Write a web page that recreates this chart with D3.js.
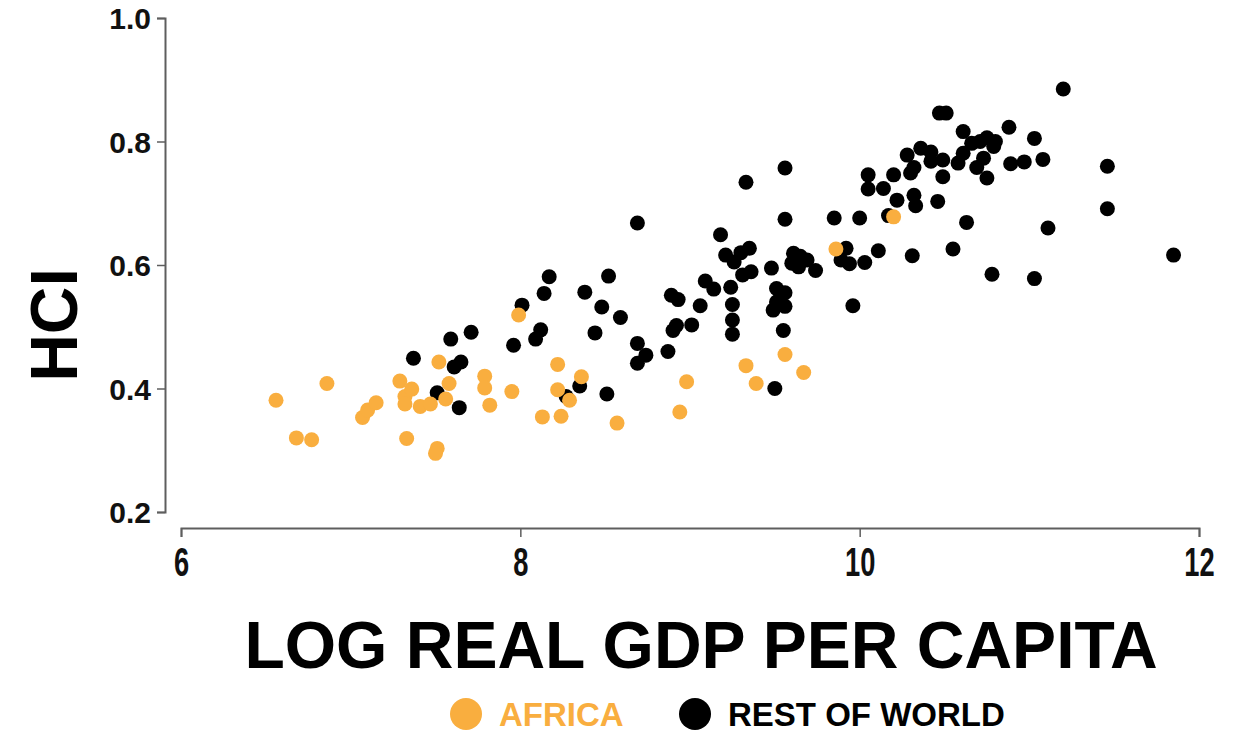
<!DOCTYPE html>
<html>
<head>
<meta charset="utf-8">
<script src="https://cdn.jsdelivr.net/npm/d3@7"></script>
<style>
  body { margin: 0; background: #fff; }
  svg text { font-family: "Liberation Sans", Arial, sans-serif; font-weight: bold; }
</style>
</head>
<body>
<svg id="chart" width="1240" height="732"></svg>
<script>
// log real GDP per capita vs HCI
var africa = [
  [6.56, 0.381], [6.86, 0.408], [6.68, 0.320], [6.77, 0.317], [7.07, 0.353],
  [7.10, 0.365], [7.15, 0.377], [7.29, 0.412], [7.32, 0.387], [7.32, 0.375],
  [7.36, 0.399], [7.41, 0.371], [7.47, 0.375], [7.33, 0.319], [7.51, 0.303],
  [7.50, 0.295], [7.52, 0.443], [7.58, 0.408], [7.56, 0.383], [7.79, 0.420],
  [7.79, 0.401], [7.82, 0.373], [7.95, 0.395], [7.99, 0.519], [8.22, 0.439],
  [8.22, 0.398], [8.29, 0.381], [8.13, 0.354], [8.24, 0.355], [8.36, 0.419],
  [8.57, 0.344], [8.98, 0.411], [8.94, 0.362], [9.33, 0.437], [9.39, 0.408],
  [9.56, 0.455], [9.67, 0.426], [9.86, 0.626], [10.20, 0.678]
];

var restOfWorld = [
  [7.37, 0.449], [7.59, 0.480], [7.71, 0.491], [7.65, 0.443], [7.61, 0.435],
  [7.51, 0.393], [7.64, 0.369], [7.96, 0.470], [8.01, 0.535], [8.09, 0.480],
  [8.12, 0.495], [8.14, 0.554], [8.17, 0.581], [8.27, 0.387], [8.35, 0.404],
  [8.51, 0.391], [8.38, 0.556], [8.52, 0.582], [8.48, 0.532], [8.59, 0.515],
  [8.44, 0.490], [8.69, 0.668], [8.69, 0.473], [8.74, 0.454], [8.69, 0.441],
  [8.87, 0.460], [8.90, 0.494], [8.92, 0.502], [9.01, 0.503], [8.89, 0.551],
  [8.93, 0.544], [9.06, 0.534], [9.09, 0.574], [9.14, 0.561], [9.18, 0.649],
  [9.21, 0.616], [9.26, 0.605], [9.30, 0.620], [9.35, 0.627], [9.31, 0.584],
  [9.36, 0.589], [9.24, 0.564], [9.25, 0.536], [9.25, 0.511], [9.25, 0.488],
  [9.33, 0.734], [9.48, 0.595], [9.56, 0.757], [9.56, 0.674], [9.61, 0.619],
  [9.65, 0.614], [9.69, 0.608], [9.60, 0.603], [9.64, 0.597], [9.74, 0.591],
  [9.51, 0.562], [9.56, 0.555], [9.51, 0.540], [9.56, 0.533], [9.49, 0.527],
  [9.55, 0.494], [9.50, 0.400], [9.85, 0.676], [10.00, 0.676], [9.92, 0.627],
  [9.89, 0.608], [9.94, 0.602], [10.03, 0.604], [10.11, 0.623], [9.96, 0.534],
  [10.05, 0.746], [10.05, 0.723], [10.14, 0.724], [10.20, 0.746], [10.17, 0.680],
  [10.22, 0.705], [10.31, 0.615], [10.30, 0.749], [10.32, 0.758], [10.32, 0.713],
  [10.33, 0.696], [10.28, 0.778], [10.36, 0.789], [10.42, 0.783], [10.42, 0.768],
  [10.49, 0.770], [10.46, 0.703], [10.49, 0.743], [10.47, 0.846], [10.51, 0.846],
  [10.55, 0.626], [10.61, 0.816], [10.61, 0.781], [10.58, 0.765], [10.63, 0.669],
  [10.66, 0.797], [10.71, 0.800], [10.75, 0.806], [10.80, 0.800], [10.79, 0.792],
  [10.73, 0.773], [10.69, 0.758], [10.75, 0.741], [10.78, 0.585], [10.88, 0.823],
  [10.89, 0.764], [10.97, 0.767], [11.03, 0.805], [11.08, 0.771], [11.11, 0.660],
  [11.03, 0.578], [11.20, 0.885], [11.46, 0.760], [11.46, 0.691], [11.85, 0.616]
];

var xTicks = [6, 8, 10, 12];
var yTicks = [0.2, 0.4, 0.6, 0.8, 1.0];
var legendItems = [
  {label: 'AFRICA', color: '#F9AE3F'},
  {label: 'REST OF WORLD', color: '#000000'}
];

var svg = d3.select('#chart');

var x = d3.scaleLinear().domain([6, 12]).range([181, 1199]);
var y = d3.scaleLinear().domain([0.2, 1.0]).range([512, 18]);

// y axis sits a bit left of the plotting area
var yAxis = svg.append('g')
    .attr('transform', 'translate(165,0)')
    .call(d3.axisLeft(y).tickValues(yTicks).tickFormat(d3.format('.1f')).tickSize(8).tickPadding(6));

var xAxis = svg.append('g')
    .attr('transform', 'translate(0,528)')
    .call(d3.axisBottom(x).tickValues(xTicks).tickFormat(d3.format('d')).tickSize(9).tickPadding(6));

[yAxis, xAxis].forEach(function(ax) {
    ax.select('.domain').attr('stroke', '#5e5e5e').attr('stroke-width', 2);
    ax.selectAll('.tick line').attr('stroke', '#5e5e5e').attr('stroke-width', 1.5);
});

yAxis.selectAll('.tick text')
    .attr('fill', '#111')
    .attr('dy', '0.36em')
    .style('font-size', '30px');

// x tick labels are tall and narrow in the original
xAxis.selectAll('.tick text')
    .attr('fill', '#111')
    .attr('y', 0)
    .attr('dy', null)
    .attr('transform', 'translate(0,48) scale(0.88,1.3)')
    .style('font-size', '31px');

svg.append('text')
    .attr('transform', 'translate(77,325) rotate(-90)')
    .attr('text-anchor', 'middle')
    .style('font-size', '66px')
    .attr('fill', '#000')
    .text('HCI');

svg.append('text')
    .attr('x', 701)
    .attr('y', 668)
    .attr('text-anchor', 'middle')
    .style('font-size', '66px')
    .attr('fill', '#000')
    .text('LOG REAL GDP PER CAPITA');

// world first, africa drawn on top
svg.append('g').selectAll('circle')
    .data(restOfWorld)
    .enter().append('circle')
    .attr('cx', function(d) { return x(d[0]); })
    .attr('cy', function(d) { return y(d[1]); })
    .attr('r', 7.5)
    .attr('fill', legendItems[1].color);

svg.append('g').selectAll('circle')
    .data(africa)
    .enter().append('circle')
    .attr('cx', function(d) { return x(d[0]); })
    .attr('cy', function(d) { return y(d[1]); })
    .attr('r', 7.5)
    .attr('fill', legendItems[0].color);

var legendX = [466, 695];
var legend = svg.append('g').selectAll('g')
    .data(legendItems)
    .enter().append('g')
    .attr('transform', function(d, i) { return 'translate(' + legendX[i] + ',714)'; });

legend.append('circle')
    .attr('r', 16)
    .attr('fill', function(d) { return d.color; });

legend.append('text')
    .attr('x', 33)
    .attr('y', 12)
    .style('font-size', '33px')
    .attr('fill', function(d) { return d.color; })
    .text(function(d) { return d.label; });
</script>
</body>
</html>
